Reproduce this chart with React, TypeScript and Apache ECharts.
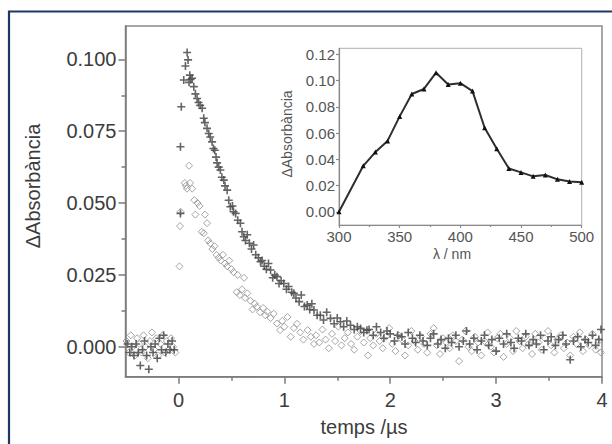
import React, { useEffect, useRef } from "react";
import * as echarts from "echarts";

// ---- Inset: transient absorption spectrum ----
const spectrumWavelength = [300, 320, 330, 340, 350, 360, 370, 380, 390, 400, 410, 420, 430, 440, 450, 460, 470, 480, 490, 500];
const spectrumAbs = [0.0, 0.035, 0.0455, 0.054, 0.0727, 0.0898, 0.0936, 0.106, 0.097, 0.098, 0.092, 0.064, 0.048, 0.033, 0.030, 0.027, 0.028, 0.0247, 0.023, 0.0224];

// ---- Main: decay traces (time in µs, ΔA) ----
const crossPreTrigger: [number, number][] = [
  [-0.48, 0.001], [-0.46, -0.002], [-0.44, 0.0], [-0.42, -0.003], [-0.40, 0.001], [-0.38, -0.002],
  [-0.36, -0.0065], [-0.34, -0.001], [-0.32, 0.002], [-0.30, -0.003], [-0.28, -0.0078], [-0.26, 0.0],
  [-0.24, -0.002], [-0.22, 0.001], [-0.20, -0.004], [-0.18, 0.003], [-0.16, -0.001], [-0.14, 0.004],
  [-0.12, -0.002], [-0.10, 0.001], [-0.08, -0.001], [-0.06, 0.002], [-0.04, -0.001],
];
const crossDecay: [number, number][] = [
  [0.019, 0.0464], [0.019, 0.0696], [0.027, 0.0835], [0.05, 0.0928], [0.066, 0.0977], [0.082, 0.1024],
  [0.091, 0.0998], [0.10, 0.092], [0.107, 0.0945], [0.115, 0.093], [0.129, 0.0934], [0.145, 0.0905],
  [0.16, 0.088], [0.176, 0.0864], [0.19, 0.085], [0.205, 0.084], [0.224, 0.083], [0.239, 0.0795],
  [0.25, 0.078], [0.27, 0.076], [0.286, 0.0742], [0.30, 0.073], [0.318, 0.0713], [0.33, 0.069],
  [0.343, 0.0684], [0.355, 0.066], [0.365, 0.064], [0.38, 0.0625], [0.396, 0.0615], [0.41, 0.059],
  [0.428, 0.058], [0.44, 0.056], [0.46, 0.0545], [0.475, 0.051], [0.49, 0.0487], [0.51, 0.049],
  [0.52, 0.047], [0.54, 0.0464], [0.56, 0.044], [0.585, 0.043], [0.60, 0.040], [0.617, 0.0383],
  [0.633, 0.037], [0.65, 0.039], [0.67, 0.036], [0.69, 0.034], [0.71, 0.0354], [0.73, 0.032],
  [0.755, 0.031], [0.775, 0.0296], [0.79, 0.030], [0.81, 0.028], [0.83, 0.027], [0.85, 0.029],
  [0.87, 0.0267], [0.89, 0.024], [0.91, 0.025], [0.93, 0.0244], [0.95, 0.022], [0.97, 0.023],
  [0.995, 0.022], [1.02, 0.020], [1.04, 0.021], [1.07, 0.019], [1.09, 0.0186], [1.11, 0.017],
  [1.14, 0.0157], [1.16, 0.018], [1.19, 0.014], [1.216, 0.0145], [1.24, 0.013], [1.26, 0.015],
  [1.28, 0.0128], [1.31, 0.011], [1.34, 0.011], [1.37, 0.0093], [1.40, 0.012], [1.436, 0.0099],
  [1.47, 0.008], [1.50, 0.010], [1.53, 0.0087], [1.56, 0.007], [1.59, 0.009], [1.625, 0.0075],
  [1.66, 0.006], [1.69, 0.007], [1.72, 0.0064], [1.75, 0.005], [1.78, 0.0058],
];
const crossTail: [number, number][] = [
  [1.80, 0.006], [1.84, 0.004], [1.87, 0.007], [1.91, 0.005], [1.94, 0.003], [1.97, 0.0055],
  [2.00, 0.0045], [2.04, 0.002], [2.07, 0.004], [2.11, 0.0035], [2.14, 0.001], [2.17, 0.005],
  [2.21, 0.003], [2.24, 0.0015], [2.28, 0.004], [2.31, 0.002], [2.35, 0.0005], [2.38, 0.003],
  [2.41, 0.0045], [2.45, 0.001], [2.48, 0.0025], [2.52, -0.0005], [2.55, 0.003], [2.58, 0.0015],
  [2.62, 0.004], [2.65, 0.0], [2.69, 0.002], [2.72, 0.0055], [2.75, 0.001], [2.79, 0.003],
  [2.82, -0.001], [2.86, 0.002], [2.89, 0.004], [2.93, 0.0005], [2.96, 0.0025], [3.00, -0.0015],
  [3.03, 0.003], [3.07, 0.001], [3.10, 0.0045], [3.14, 0.0015], [3.17, -0.0005], [3.21, 0.003],
  [3.24, 0.002], [3.28, 0.0045], [3.31, 0.0005], [3.35, 0.0025], [3.38, 0.001], [3.42, 0.004],
  [3.45, -0.001], [3.49, 0.002], [3.52, 0.0035], [3.56, 0.0005], [3.59, 0.0025], [3.63, 0.004],
  [3.66, 0.001], [3.70, -0.0045], [3.73, 0.002], [3.77, 0.0035], [3.80, 0.0], [3.84, 0.0025],
  [3.87, 0.0015], [3.91, 0.004], [3.94, 0.0005], [3.97, 0.0025], [3.99, 0.006],
];
const diamondPreTrigger: [number, number][] = [
  [-0.49, 0.002], [-0.47, -0.002], [-0.45, 0.004], [-0.43, 0.0], [-0.41, -0.003], [-0.39, 0.003],
  [-0.37, 0.001], [-0.35, -0.002], [-0.33, 0.004], [-0.31, 0.0], [-0.29, -0.004], [-0.27, 0.002],
  [-0.25, 0.005], [-0.23, -0.001], [-0.21, 0.003], [-0.19, -0.003], [-0.17, 0.001], [-0.15, 0.004],
  [-0.13, -0.002], [-0.11, 0.002], [-0.09, -0.001], [-0.07, 0.003], [-0.05, 0.0], [-0.03, -0.002],
];
const diamondDecay: [number, number][] = [
  [0.01, 0.028], [0.015, 0.042], [0.02, 0.047], [0.06, 0.057], [0.07, 0.056], [0.08, 0.055],
  [0.10, 0.063], [0.11, 0.057], [0.13, 0.055], [0.15, 0.051], [0.16, 0.046], [0.18, 0.050],
  [0.20, 0.049], [0.22, 0.040], [0.24, 0.0395], [0.25, 0.046], [0.27, 0.043], [0.28, 0.037],
  [0.30, 0.036], [0.32, 0.034], [0.34, 0.035], [0.36, 0.032], [0.38, 0.031], [0.40, 0.030],
  [0.42, 0.032], [0.44, 0.029], [0.46, 0.028], [0.48, 0.030], [0.50, 0.027], [0.52, 0.026],
  [0.55, 0.019], [0.56, 0.025], [0.58, 0.018], [0.60, 0.020], [0.62, 0.024], [0.63, 0.017],
  [0.65, 0.0186], [0.68, 0.016], [0.70, 0.013], [0.72, 0.015], [0.74, 0.0139], [0.77, 0.012],
  [0.80, 0.0135], [0.82, 0.011], [0.84, 0.0122], [0.87, 0.010], [0.90, 0.0115], [0.93, 0.0081],
  [0.96, 0.0058], [0.98, 0.009], [1.00, 0.007], [1.03, 0.0104], [1.06, 0.0035], [1.09, 0.0065],
  [1.12, 0.008], [1.15, 0.005], [1.18, 0.0025], [1.22, 0.0058], [1.25, 0.0035], [1.28, 0.001],
];
const diamondTail: [number, number][] = [
  [1.30, 0.004], [1.33, 0.0015], [1.36, 0.006], [1.39, 0.0025], [1.42, -0.0005], [1.45, 0.0045],
  [1.48, 0.002], [1.51, 0.007], [1.54, 0.0005], [1.57, 0.003], [1.60, 0.005], [1.63, 0.001],
  [1.66, -0.001], [1.69, 0.0035], [1.72, 0.0055], [1.75, 0.0015], [1.79, -0.003], [1.81, 0.003],
  [1.84, 0.0005], [1.87, 0.0045], [1.90, 0.002], [1.93, -0.0005], [1.96, 0.0035], [1.99, 0.0065],
  [2.02, 0.001], [2.05, -0.0015], [2.08, 0.004], [2.11, 0.0025], [2.14, -0.003], [2.17, 0.0005],
  [2.20, 0.0055], [2.23, 0.002], [2.26, -0.001], [2.29, 0.0035], [2.32, 0.001], [2.35, -0.002],
  [2.38, 0.0045], [2.41, 0.0065], [2.44, 0.0005], [2.47, -0.0025], [2.50, 0.003], [2.53, 0.0015],
  [2.56, -0.0005], [2.59, 0.004], [2.62, 0.002], [2.65, -0.005], [2.68, 0.0025], [2.71, 0.0055],
  [2.74, 0.0], [2.77, -0.0015], [2.80, 0.0035], [2.83, 0.0015], [2.86, -0.003], [2.89, 0.002],
  [2.92, 0.005], [2.95, 0.0], [2.98, -0.002], [3.01, 0.003], [3.04, 0.0045], [3.07, -0.0035],
  [3.10, 0.001], [3.13, 0.003], [3.16, -0.0015], [3.19, 0.0055], [3.22, 0.002], [3.25, -0.0005],
  [3.28, 0.0035], [3.31, 0.001], [3.34, -0.0025], [3.37, 0.0045], [3.40, 0.0015], [3.43, -0.001],
  [3.46, 0.003], [3.49, 0.0055], [3.52, 0.0005], [3.55, -0.002], [3.58, 0.0025], [3.61, 0.004],
  [3.64, -0.0005], [3.67, 0.0015], [3.70, -0.003], [3.73, 0.0035], [3.76, 0.001], [3.79, 0.005],
  [3.82, -0.0015], [3.85, 0.0025], [3.88, 0.0005], [3.91, 0.0045], [3.94, -0.001], [3.97, 0.002],
  [3.99, -0.002],
];

// ---- Tick values ----
const mainXTicks = [0, 1, 2, 3, 4];
const mainXMinor = [0.5, 1.5, 2.5, 3.5];
const mainYTicks = [0, 0.025, 0.05, 0.075, 0.1];
const mainYMinor = [0.0125, 0.0375, 0.0625, 0.0875];
const insetXTicks = [300, 350, 400, 450, 500];
const insetXMinor = [325, 375, 425, 475];
const insetYTicks = [0, 0.02, 0.04, 0.06, 0.08, 0.1, 0.12];

const FONT = "Liberation Sans, Arial, Helvetica, sans-serif";
const AXIS_COLOR = "#7a7a7a";
const TEXT_COLOR = "#3c3c3c";

export default function App() {
  const ref = useRef<HTMLDivElement>(null);
  useEffect(() => {
    if (!ref.current) return;
    const chart = echarts.init(ref.current, undefined, { renderer: "svg" });

    const mainGrid = { left: 125.5, top: 26, width: 476.5, height: 350.7 };
    const insetGrid = { left: 339, top: 48.3, width: 242.7, height: 176.7 };

    const lineStyle = { color: AXIS_COLOR, width: 1.5 };
    const insetLine = { color: "#8a8a8a", width: 1.2 };

    const option: any = {
      animation: false,
      backgroundColor: "#ffffff",
      grid: [
        { ...mainGrid, show: true, borderColor: "#8a8a8a", borderWidth: 1.5, backgroundColor: "transparent" },
        { ...insetGrid, show: true, borderColor: "#b0b0b0", borderWidth: 1, backgroundColor: "#ffffff" },
      ],
      xAxis: [
        {
          gridIndex: 0, type: "value", min: -0.5, max: 4, position: "bottom",
          axisLine: { show: true, onZero: false, lineStyle },
          axisTick: { show: true, customValues: mainXTicks, length: 7, lineStyle },
          axisLabel: { show: true, customValues: mainXTicks, fontSize: 20, color: TEXT_COLOR, fontFamily: FONT, margin: 13 },
          splitLine: { show: false },
        },
        {
          gridIndex: 0, type: "value", min: -0.5, max: 4, position: "bottom", offset: 0,
          axisLine: { show: false, onZero: false },
          axisTick: { show: true, customValues: mainXMinor, length: 4, lineStyle },
          axisLabel: { show: false },
          splitLine: { show: false },
        },
        {
          gridIndex: 1, type: "value", min: 300, max: 500, position: "bottom",
          axisLine: { show: true, onZero: false, lineStyle: insetLine },
          axisTick: { show: true, customValues: insetXTicks, length: 3, lineStyle: insetLine },
          axisLabel: { show: true, customValues: insetXTicks, fontSize: 15, color: "#555555", fontFamily: FONT, margin: 4 },
          splitLine: { show: false },
        },
        {
          gridIndex: 1, type: "value", min: 300, max: 500, position: "bottom", offset: 0,
          axisLine: { show: false, onZero: false },
          axisTick: { show: true, customValues: insetXMinor, length: 2, lineStyle: insetLine },
          axisLabel: { show: false },
          splitLine: { show: false },
        },
      ],
      yAxis: [
        {
          gridIndex: 0, type: "value", min: -0.0104, max: 0.1116, position: "left",
          axisLine: { show: true, onZero: false, lineStyle },
          axisTick: { show: true, customValues: mainYTicks, length: 7, lineStyle },
          axisLabel: {
            show: true, customValues: mainYTicks, fontSize: 20, color: TEXT_COLOR, fontFamily: FONT, margin: 9,
            formatter: (v: number) => v.toFixed(3),
          },
          splitLine: { show: false },
        },
        {
          gridIndex: 0, type: "value", min: -0.0104, max: 0.1116, position: "left", offset: 0,
          axisLine: { show: false, onZero: false },
          axisTick: { show: true, customValues: mainYMinor, length: 4, lineStyle },
          axisLabel: { show: false },
          splitLine: { show: false },
        },
        {
          gridIndex: 1, type: "value", min: -0.0101, max: 0.1246, position: "left",
          axisLine: { show: true, onZero: false, lineStyle: insetLine },
          axisTick: { show: true, customValues: insetYTicks, length: 3, lineStyle: insetLine },
          axisLabel: {
            show: true, customValues: insetYTicks, fontSize: 15, color: "#555555", fontFamily: FONT, margin: 4,
            formatter: (v: number) => v.toFixed(2),
          },
          splitLine: { show: false },
        },
      ],
      series: [
        {
          name: "diamonds", type: "scatter", xAxisIndex: 0, yAxisIndex: 0,
          data: [...diamondPreTrigger, ...diamondDecay, ...diamondTail],
          symbol: "diamond", symbolSize: [7, 7],
          itemStyle: { color: "rgba(255,255,255,0)", borderColor: "#8e8e8e", borderWidth: 1 },
          z: 2,
        },
        {
          name: "crosses", type: "scatter", xAxisIndex: 0, yAxisIndex: 0,
          data: [...crossPreTrigger, ...crossDecay, ...crossTail],
          symbol: "path://M4,0H6V10H4Z M0,4H10V6H0Z", symbolSize: 8,
          itemStyle: { color: "#4a4a4a", opacity: 0.85 },
          z: 3,
        },
        {
          name: "spectrum", type: "line", xAxisIndex: 2, yAxisIndex: 2,
          data: spectrumWavelength.map((w, i) => [w, spectrumAbs[i]]),
          symbol: "triangle", symbolSize: 5, showSymbol: true,
          lineStyle: { color: "#2e2e2e", width: 2 },
          itemStyle: { color: "#111111" },
          z: 5,
        },
      ],
      graphic: [
        {
          type: "rect", silent: true, z: 100,
          shape: { x: 9, y: 11.5, width: 640, height: 480 },
          style: { fill: "none", stroke: "#1d3862", lineWidth: 2.2 },
        },
        {
          type: "text", x: 33, y: 186, rotation: Math.PI / 2,
          style: { text: "ΔAbsorbància", fontSize: 20, fill: TEXT_COLOR, fontFamily: FONT, align: "center", verticalAlign: "middle" },
        },
        {
          type: "text", x: 364, y: 427,
          style: { text: "temps /µs", fontSize: 20, fill: TEXT_COLOR, fontFamily: FONT, align: "center", verticalAlign: "middle" },
        },
        {
          type: "text", x: 287, y: 134, rotation: Math.PI / 2, z: 10,
          style: { text: "ΔAbsorbància", fontSize: 14, fill: "#555555", fontFamily: FONT, align: "center", verticalAlign: "middle" },
        },
        {
          type: "text", x: 452, y: 254, z: 10,
          style: { text: "λ / nm", fontSize: 14, fill: "#555555", fontFamily: FONT, align: "center", verticalAlign: "middle" },
        },
      ],
    };
    chart.setOption(option);
    return () => chart.dispose();
  }, []);

  return <div ref={ref} style={{ position: "absolute", left: 0, top: 0, width: 612, height: 444 }} />;
}
